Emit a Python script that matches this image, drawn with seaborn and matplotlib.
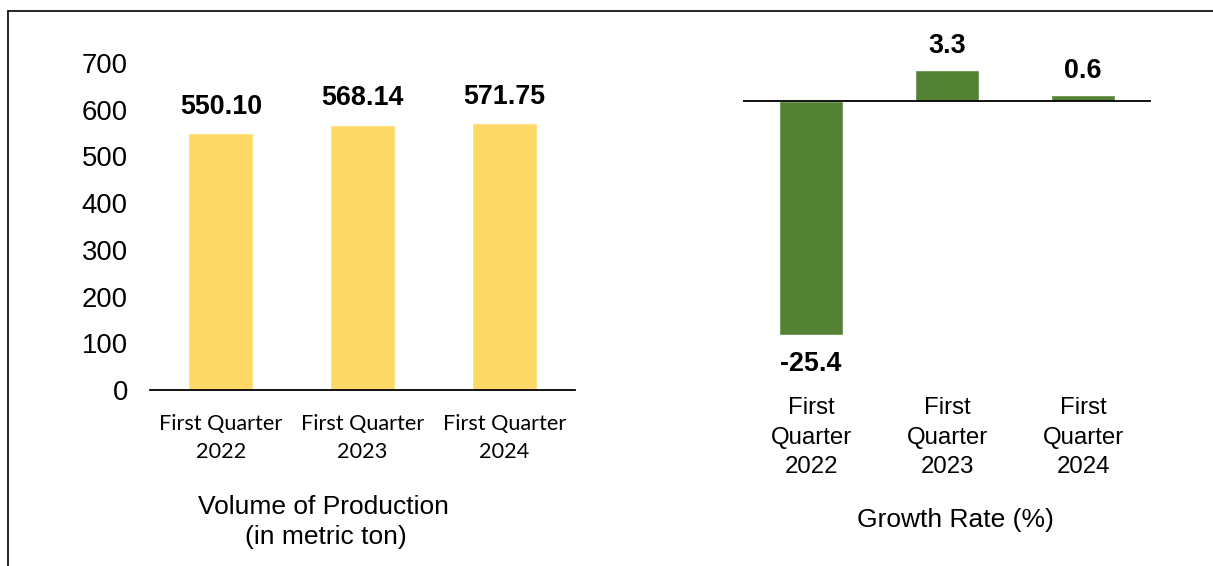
import matplotlib
matplotlib.use("Agg")
import matplotlib.pyplot as plt
import seaborn as sns
import pandas as pd
from matplotlib.lines import Line2D

# ---- Data ----
quarters = ["First Quarter 2022", "First Quarter 2023", "First Quarter 2024"]
volume = [550.10, 568.14, 571.75]
growth = [-25.4, 3.3, 0.6]
left_ticks = ["First Quarter\n2022", "First Quarter\n2023", "First Quarter\n2024"]
right_ticks = ["First\nQuarter\n2022", "First\nQuarter\n2023", "First\nQuarter\n2024"]

vol_df = pd.DataFrame({"quarter": quarters, "volume": volume})
gr_df = pd.DataFrame({"quarter": quarters, "growth": growth})

sns.set_style("white")
plt.rcParams["font.family"] = ["Liberation Sans", "DejaVu Sans"]
plt.rcParams["text.color"] = "black"
plt.rcParams["xtick.color"] = "black"
plt.rcParams["ytick.color"] = "black"
plt.rcParams["axes.labelcolor"] = "black"

fig = plt.figure(figsize=(12.13, 5.66), dpi=100)

# ---- Left: volume of production ----
ax1 = fig.add_axes([150 / 1213, 176 / 566, 425 / 1213, 327 / 566])
sns.barplot(data=vol_df, x="quarter", y="volume", color="#FFD966",
            saturation=1, width=0.46, ax=ax1)
ax1.set_ylim(0, 700)
ax1.set_yticks(range(0, 701, 100))
ax1.tick_params(axis="y", labelsize=19.8, pad=16, length=0)
ax1.set_xticks(range(len(quarters)))
ax1.set_xticklabels(left_ticks, fontsize=15.6, family="Lato", linespacing=1.5)
ax1.tick_params(axis="x", pad=17, length=0)
ax1.set_xlabel("")
ax1.set_ylabel("")
for s in ["top", "right", "left"]:
    ax1.spines[s].set_visible(False)
ax1.spines["bottom"].set_color("black")
ax1.spines["bottom"].set_linewidth(1.3)
for i, v in enumerate(volume):
    ax1.text(i, v + 56, f"{v:.2f}", ha="center", va="center",
             fontsize=19.4, fontweight="bold")

fig.text(323 / 1213, 1 - 507 / 566, "Volume of Production", ha="center",
         va="center", fontsize=19)
fig.text(326 / 1213, 1 - 537 / 566, "(in metric ton)", ha="center",
         va="center", fontsize=19)

# ---- Right: growth rate ----
ax2 = fig.add_axes([743 / 1213, 176 / 566, 408 / 1213, 350 / 566])
sns.barplot(data=gr_df, x="quarter", y="growth", color="#548235",
            saturation=1, width=0.47, ax=ax2)
ax2.set_ylim(-31.4, 6.6)
ax2.axhline(0, color="black", linewidth=1.3)
ax2.set_yticks([])
ax2.set_xticks(range(len(quarters)))
ax2.set_xticklabels(right_ticks, fontsize=17.3, linespacing=1.45)
ax2.tick_params(axis="x", pad=5, length=0)
ax2.set_xlabel("")
ax2.set_ylabel("")
for s in ["top", "right", "left", "bottom"]:
    ax2.spines[s].set_visible(False)
for i, v in enumerate(growth):
    off = -3.2 if v < 0 else 2.6
    ax2.text(i, v + off, f"{v:.1f}", ha="center", va="center",
             fontsize=19.4, fontweight="bold")

fig.text(955 / 1213, 1 - 520 / 566, "Growth Rate (%)", ha="center",
         va="center", fontsize=19)

# ---- frame lines ----
fig.add_artist(Line2D([8 / 1213, 1], [1 - 11 / 566, 1 - 11 / 566],
                      color="black", linewidth=1.2, transform=fig.transFigure))
fig.add_artist(Line2D([8 / 1213, 8 / 1213], [0, 1 - 11 / 566],
                      color="black", linewidth=1.2, transform=fig.transFigure))

fig.savefig("out.png", dpi=100)
